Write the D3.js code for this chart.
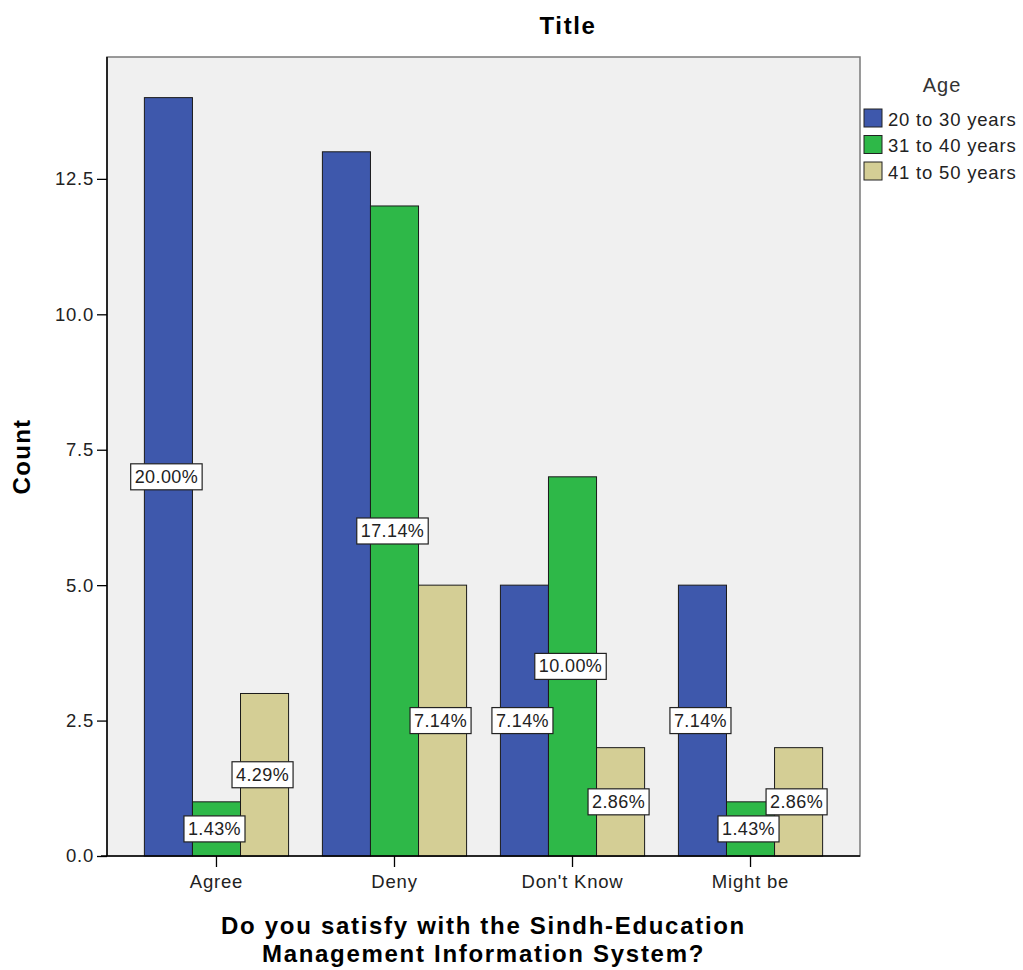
<!DOCTYPE html>
<html><head><meta charset="utf-8">
<script src="https://cdn.jsdelivr.net/npm/d3@7/dist/d3.min.js"></script>
<style>body{margin:0;background:#fff;} text{font-family:"Liberation Sans",Arial,sans-serif;}</style>
</head><body>
<svg id="c" width="1023" height="970"></svg>
<script>
const categories = ["Agree", "Deny", "Don't Know", "Might be"];
const seriesNames = ["20 to 30 years", "31 to 40 years", "41 to 50 years"];
const counts = [
  [14, 13, 5, 5],
  [1, 12, 7, 1],
  [3, 5, 2, 2]
];
const pctLabels = [
  ["20.00%", null, "7.14%", "7.14%"],
  ["1.43%", "17.14%", "10.00%", "1.43%"],
  ["4.29%", "7.14%", "2.86%", "2.86%"]
];
const yTicks = [0, 2.5, 5, 7.5, 10, 12.5];
const colors = ["#3E58AC", "#2EB848", "#D4CE95"];

const svg = d3.select("#c");
const L = 107, R = 860, T = 57, B = 856;

const x0 = d3.scaleBand().domain(categories).range([L, R]).paddingInner(0.19).paddingOuter(0.21);
const x1 = d3.scaleBand().domain(seriesNames).range([0, x0.bandwidth()]);
const y = d3.scaleLinear().domain([0, 14.75]).range([B, T]);

// plot background
svg.append("rect").attr("x", L).attr("y", T).attr("width", R - L).attr("height", B - T)
  .attr("fill", "#F0F0F0").attr("stroke", "#7a7a7a").attr("stroke-width", 1.5);

// bars
seriesNames.forEach((s, si) => {
  svg.append("g").selectAll("rect").data(categories).join("rect")
    .attr("x", c => x0(c) + x1(s))
    .attr("y", (c, ci) => y(counts[si][ci]))
    .attr("width", x1.bandwidth())
    .attr("height", (c, ci) => B - y(counts[si][ci]))
    .attr("fill", colors[si]).attr("stroke", "#1a1a1a").attr("stroke-width", 1);
});

// axes
const yAxis = d3.axisLeft(y).tickValues(yTicks).tickFormat(d3.format(".1f")).tickSize(10).tickPadding(3).tickSizeOuter(0);
const gy = svg.append("g").attr("transform", `translate(${L},0)`).call(yAxis);
gy.select(".domain").remove();
gy.selectAll("text").attr("font-size", 18.5).attr("letter-spacing", 0.75).attr("fill", "#222");
gy.selectAll("line").attr("stroke", "#000").attr("stroke-width", 1.3);
svg.append("line").attr("x1", L).attr("x2", L).attr("y1", T).attr("y2", B).attr("stroke", "#000").attr("stroke-width", 1.5);

const xAxis = d3.axisBottom(x0).tickSize(11).tickSizeOuter(0).tickPadding(8);
const gx = svg.append("g").attr("transform", `translate(0,${B})`).call(xAxis);
gx.select(".domain").remove();
gx.selectAll("text").attr("font-size", 18.5).attr("letter-spacing", 0.8).attr("fill", "#222");
gx.selectAll("line").attr("stroke", "#000").attr("stroke-width", 1.3);
svg.append("line").attr("x1", L - 6).attr("x2", R).attr("y1", B).attr("y2", B).attr("stroke", "#000").attr("stroke-width", 1.5);

// labels
seriesNames.forEach((s, si) => {
  categories.forEach((c, ci) => {
    const t = pctLabels[si][ci];
    if (!t) return;
    const cx = x0(c) + x1(s) + x1.bandwidth() / 2 - 2;
    const cy = y(counts[si][ci] / 2);
    const g = svg.append("g");
    const txt = g.append("text").attr("x", cx).attr("y", cy).attr("text-anchor", "middle")
      .attr("dominant-baseline", "central").attr("font-size", 18).attr("letter-spacing", 0.4)
      .attr("fill", "#222").text(t);
    const bb = txt.node().getBBox();
    g.insert("rect", "text").attr("x", bb.x - 4).attr("y", cy - 13).attr("width", bb.width + 8).attr("height", 26)
      .attr("fill", "#fff").attr("stroke", "#222").attr("stroke-width", 1.2);
  });
});

// titles
svg.append("text").attr("x", 568).attr("y", 34).attr("text-anchor", "middle")
  .attr("font-size", 24).attr("letter-spacing", 1.6).attr("font-weight", "bold").attr("fill", "#000").text("Title");
svg.append("text").attr("transform", `translate(30,${(T + B) / 2}) rotate(-90)`).attr("text-anchor", "middle")
  .attr("font-size", 24).attr("letter-spacing", 1.3).attr("font-weight", "bold").attr("fill", "#000").text("Count");
svg.append("text").attr("x", (L + R) / 2).attr("y", 934).attr("text-anchor", "middle")
  .attr("font-size", 24).attr("letter-spacing", 1.7).attr("font-weight", "bold").attr("fill", "#000").text("Do you satisfy with the Sindh-Education");
svg.append("text").attr("x", (L + R) / 2).attr("y", 962).attr("text-anchor", "middle")
  .attr("font-size", 24).attr("letter-spacing", 1.7).attr("font-weight", "bold").attr("fill", "#000").text("Management Information System?");

// legend
svg.append("text").attr("x", 942).attr("y", 92).attr("text-anchor", "middle")
  .attr("font-size", 20).attr("letter-spacing", 1).attr("fill", "#333").text("Age");
const lg = svg.append("g").selectAll("g").data(seriesNames).join("g")
  .attr("transform", (d, i) => `translate(864,${109 + i * 26.5})`);
lg.append("rect").attr("width", 18).attr("height", 18).attr("fill", (d, i) => colors[i]).attr("stroke", "#222");
lg.append("text").attr("x", 24).attr("y", 10).attr("dominant-baseline", "central")
  .attr("font-size", 18.5).attr("letter-spacing", 0.8).attr("fill", "#222").text(d => d);
</script>
</body></html>
